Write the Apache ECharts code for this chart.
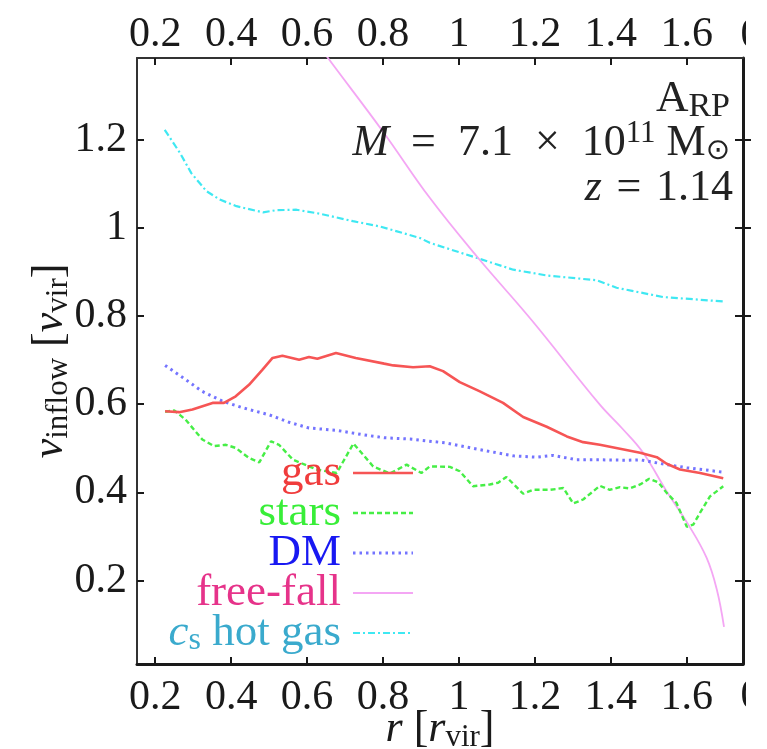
<!DOCTYPE html>
<html>
<head>
<meta charset="utf-8">
<script src="https://cdn.jsdelivr.net/npm/echarts@6/dist/echarts.min.js"></script>
<style>
  html, body { margin: 0; padding: 0; background: #fff; }
  #chart { width: 767px; height: 749px; }
</style>
</head>
<body>
<div id="chart"></div>
<script>
// Inflow velocity profiles vs radius (units of virial radius / virial velocity)
const xTicks = [0.2, 0.4, 0.6, 0.8, 1, 1.2, 1.4, 1.6];
const yTicks = [0.2, 0.4, 0.6, 0.8, 1, 1.2];

const gasR = [0.226,0.263,0.298,0.351,0.381,0.412,0.447,0.482,0.509,0.535,0.579,0.605,0.627,0.676,0.728,0.803,0.827,0.879,0.923,0.958,1.002,1.055,1.116,1.169,1.231,1.284,1.327,1.371,1.424,1.477,1.521,1.547,1.582,1.635,1.696];
const gasV = [0.584,0.582,0.588,0.603,0.603,0.618,0.644,0.678,0.705,0.710,0.701,0.707,0.703,0.716,0.705,0.692,0.688,0.684,0.686,0.675,0.650,0.629,0.603,0.571,0.549,0.527,0.514,0.508,0.499,0.490,0.480,0.465,0.452,0.444,0.432];

const starsR = [0.226,0.250,0.280,0.324,0.355,0.386,0.412,0.447,0.474,0.505,0.526,0.563,0.625,0.678,0.722,0.774,0.818,0.862,0.901,0.923,0.976,1.002,1.037,1.081,1.103,1.125,1.169,1.195,1.240,1.275,1.301,1.327,1.371,1.397,1.424,1.450,1.477,1.501,1.525,1.547,1.573,1.600,1.617,1.635,1.661,1.696];
const starsV = [0.583,0.586,0.565,0.520,0.505,0.508,0.501,0.478,0.468,0.516,0.508,0.474,0.452,0.444,0.511,0.459,0.443,0.463,0.444,0.459,0.458,0.448,0.414,0.418,0.422,0.435,0.397,0.406,0.406,0.410,0.375,0.384,0.415,0.406,0.412,0.409,0.418,0.431,0.423,0.399,0.376,0.322,0.327,0.354,0.391,0.414];

const dmR = [0.226,0.280,0.324,0.377,0.430,0.500,0.553,0.605,0.676,0.746,0.803,0.871,0.967,1.055,1.143,1.204,1.248,1.310,1.371,1.446,1.477,1.547,1.600,1.696];
const dmV = [0.688,0.656,0.629,0.607,0.592,0.576,0.559,0.546,0.541,0.531,0.524,0.521,0.512,0.497,0.483,0.480,0.484,0.474,0.474,0.473,0.474,0.463,0.456,0.446];

const ffR = [0.600,0.655,0.800,0.923,1.050,1.190,1.371,1.430,1.485,1.545,1.604,1.652,1.679,1.698];
const ffV = [1.450,1.385,1.218,1.068,0.932,0.792,0.599,0.545,0.490,0.405,0.327,0.252,0.180,0.095];

const csR = [0.225,0.265,0.295,0.335,0.370,0.414,0.484,0.519,0.572,0.633,0.721,0.792,0.897,0.923,1.046,1.143,1.231,1.363,1.415,1.538,1.696];
const csV = [1.222,1.170,1.124,1.083,1.064,1.049,1.035,1.040,1.041,1.032,1.015,1.003,0.977,0.966,0.932,0.905,0.892,0.881,0.864,0.843,0.833];

const pairs = (xs, ys) => xs.map((x, i) => [x, ys[i]]);

const SERIF = "'Liberation Serif', 'DejaVu Serif', serif";
const INK = '#1a1a1a';
const X_MIN = 0.152, X_MAX = 1.748, Y_MIN = 0.011, Y_MAX = 1.385;

// line styles shared by the curves and the key samples
const styles = {
  gas:   { color: '#f65555', width: 2.6 },
  stars: { color: '#46ee46', width: 2.4, type: [5, 3] },
  dm:    { color: '#7474ff', width: 3, type: [2.5, 4] },
  ff:    { color: '#f4a6f4', width: 1.8 },
  cs:    { color: '#3fe8f2', width: 2.2, type: [7, 3, 2, 3] }
};

// key entries, top to bottom
const keyEntries = [
  { text: 'gas', color: '#f03c3c', style: styles.gas },
  { text: 'stars', color: '#38ee38', style: styles.stars },
  { text: 'DM', color: '#1818f2', style: styles.dm },
  { text: 'free-fall', color: '#e6338a', style: styles.ff },
  { text: '{c|c}{s|s} hot gas', color: '#3aaacd', style: styles.cs }
];

const chart = echarts.init(document.getElementById('chart'), null, { renderer: 'canvas' });

const tickLabel = { fontFamily: SERIF, fontSize: 42, color: INK };

const keyGraphics = [];
keyEntries.forEach((e, i) => {
  const y = 473 + 40 * i;
  keyGraphics.push({
    type: 'text', z: 10,
    style: {
      x: 341, y: y, align: 'right', verticalAlign: 'middle',
      text: e.text, fontFamily: SERIF, fontSize: 45, fill: e.color,
      rich: {
        c: { fontFamily: SERIF, fontSize: 45, fontStyle: 'italic', fill: e.color },
        s: { fontFamily: SERIF, fontSize: 32, fill: e.color, padding: [16, 0, 0, 0] }
      }
    }
  });
  keyGraphics.push({
    type: 'line', z: 10,
    shape: { x1: 353, y1: y, x2: 413, y2: y },
    style: {
      stroke: e.style.color, lineWidth: e.style.width,
      lineDash: Array.isArray(e.style.type) ? e.style.type : null
    }
  });
});

const option = {
  animation: false,
  backgroundColor: '#fff',
  grid: { left: 137, right: 24, top: 58, bottom: 85, containLabel: false, outerBoundsMode: 'none' },
  xAxis: [
    {
      type: 'value', position: 'bottom', min: X_MIN, max: X_MAX,
      splitLine: { show: false },
      axisLine: { onZero: false, lineStyle: { color: INK, width: 3 } },
      axisTick: { inside: true, length: 7, customValues: xTicks, lineStyle: { color: INK, width: 2 } },
      axisLabel: Object.assign({ customValues: xTicks, margin: 13 }, tickLabel),
      name: '{i|r} [{i|r}{sb|vir}]',
      nameLocation: 'middle', nameGap: 42, nameMoveOverlap: false,
      nameTextStyle: {
        fontFamily: SERIF, fontSize: 44, color: INK,
        rich: {
          i: { fontFamily: SERIF, fontSize: 44, fontStyle: 'italic', color: INK },
          sb: { fontFamily: SERIF, fontSize: 31, color: INK, padding: [16, 0, 0, 0] }
        }
      }
    },
    {
      type: 'value', position: 'top', min: X_MIN, max: X_MAX,
      splitLine: { show: false },
      axisLine: { onZero: false, lineStyle: { color: '#333', width: 2 } },
      axisTick: { inside: true, length: 7, customValues: xTicks, lineStyle: { color: INK, width: 2 } },
      axisLabel: Object.assign({ customValues: xTicks, margin: 2 }, tickLabel)
    }
  ],
  yAxis: [
    {
      type: 'value', position: 'left', min: Y_MIN, max: Y_MAX,
      splitLine: { show: false },
      axisLine: { onZero: false, lineStyle: { color: '#333', width: 2 } },
      axisTick: { inside: true, length: 7, customValues: yTicks, lineStyle: { color: INK, width: 2 } },
      axisLabel: Object.assign({ customValues: yTicks, margin: 10 }, tickLabel),
      name: '{i|v}{sb|inflow} [{i|v}{sb|vir}]',
      nameLocation: 'middle', nameRotate: 90, nameGap: 63, nameMoveOverlap: false,
      nameTextStyle: {
        fontFamily: SERIF, fontSize: 44, color: INK,
        rich: {
          i: { fontFamily: SERIF, fontSize: 44, fontStyle: 'italic', color: INK },
          sb: { fontFamily: SERIF, fontSize: 31, color: INK, padding: [16, 0, 0, 0] }
        }
      }
    },
    {
      type: 'value', position: 'right', min: Y_MIN, max: Y_MAX,
      splitLine: { show: false },
      axisLine: { onZero: false, lineStyle: { color: INK, width: 3 } },
      axisTick: { inside: true, length: 8, customValues: yTicks, lineStyle: { color: INK, width: 2 } },
      axisLabel: { show: false }
    },
    {
      type: 'value', position: 'right', min: Y_MIN, max: Y_MAX,
      splitLine: { show: false },
      axisLine: { show: false },
      axisTick: { inside: false, length: 8, customValues: yTicks, lineStyle: { color: INK, width: 2 } },
      axisLabel: { show: false }
    }
  ],
  series: [
    {
      name: 'cs hot gas', type: 'line', symbol: 'none', showSymbol: false,
      data: pairs(csR, csV), z: 2, lineStyle: styles.cs
    },
    {
      name: 'free-fall', type: 'line', symbol: 'none', showSymbol: false,
      data: pairs(ffR, ffV), z: 2, smooth: 0.4, lineStyle: styles.ff
    },
    {
      name: 'DM', type: 'line', symbol: 'none', showSymbol: false,
      data: pairs(dmR, dmV), z: 3, lineStyle: styles.dm
    },
    {
      name: 'stars', type: 'line', symbol: 'none', showSymbol: false,
      data: pairs(starsR, starsV), z: 3, lineStyle: styles.stars
    },
    {
      name: 'gas', type: 'line', symbol: 'none', showSymbol: false,
      data: pairs(gasR, gasV), z: 4, lineStyle: styles.gas
    }
  ],
  graphic: keyGraphics.concat([
    {
      type: 'text', z: 10,
      style: {
        x: 730, y: 99, align: 'right', verticalAlign: 'middle',
        text: 'A{sb|RP}',
        fontFamily: SERIF, fontSize: 45, fill: '#222',
        rich: { sb: { fontFamily: SERIF, fontSize: 34, fill: '#222', padding: [16, 0, 0, 0] } }
      }
    },
    {
      type: 'text', z: 10,
      style: {
        x: 730, y: 143, align: 'right', verticalAlign: 'middle',
        text: '{i|M}\u2002=\u20027.1\u2002×\u200210{sp|11} M{sb|⊙}',
        fontFamily: SERIF, fontSize: 44, fill: '#222',
        rich: {
          i: { fontFamily: SERIF, fontSize: 44, fontStyle: 'italic', fill: '#222' },
          sp: { fontFamily: SERIF, fontSize: 31, fill: '#222', padding: [0, 0, 18, 0] },
          sb: { fontFamily: "'DejaVu Sans', sans-serif", fontSize: 29, fill: '#222', padding: [16, 0, 0, 0] }
        }
      }
    },
    {
      type: 'text', z: 10,
      style: {
        x: 733, y: 188, align: 'right', verticalAlign: 'middle',
        text: '{i|z}\u2004=\u20041.14',
        fontFamily: SERIF, fontSize: 44, fill: '#222',
        rich: { i: { fontFamily: SERIF, fontSize: 44, fontStyle: 'italic', fill: '#222' } }
      }
    },
    // labels of the neighbouring axis, cut at the panel edge
    {
      type: 'text', z: 10,
      style: { x: 751, y: 36, align: 'center', verticalAlign: 'middle', text: '0', fontFamily: SERIF, fontSize: 42, fill: INK }
    },
    {
      type: 'text', z: 10,
      style: { x: 751, y: 697, align: 'center', verticalAlign: 'middle', text: '0', fontFamily: SERIF, fontSize: 42, fill: INK }
    },
    { type: 'rect', z: 11, shape: { x: 746, y: 0, width: 30, height: 56 }, style: { fill: '#fff' } },
    { type: 'rect', z: 11, shape: { x: 746, y: 674, width: 30, height: 75 }, style: { fill: '#fff' } }
  ])
};

chart.setOption(option);
</script>
</body>
</html>
